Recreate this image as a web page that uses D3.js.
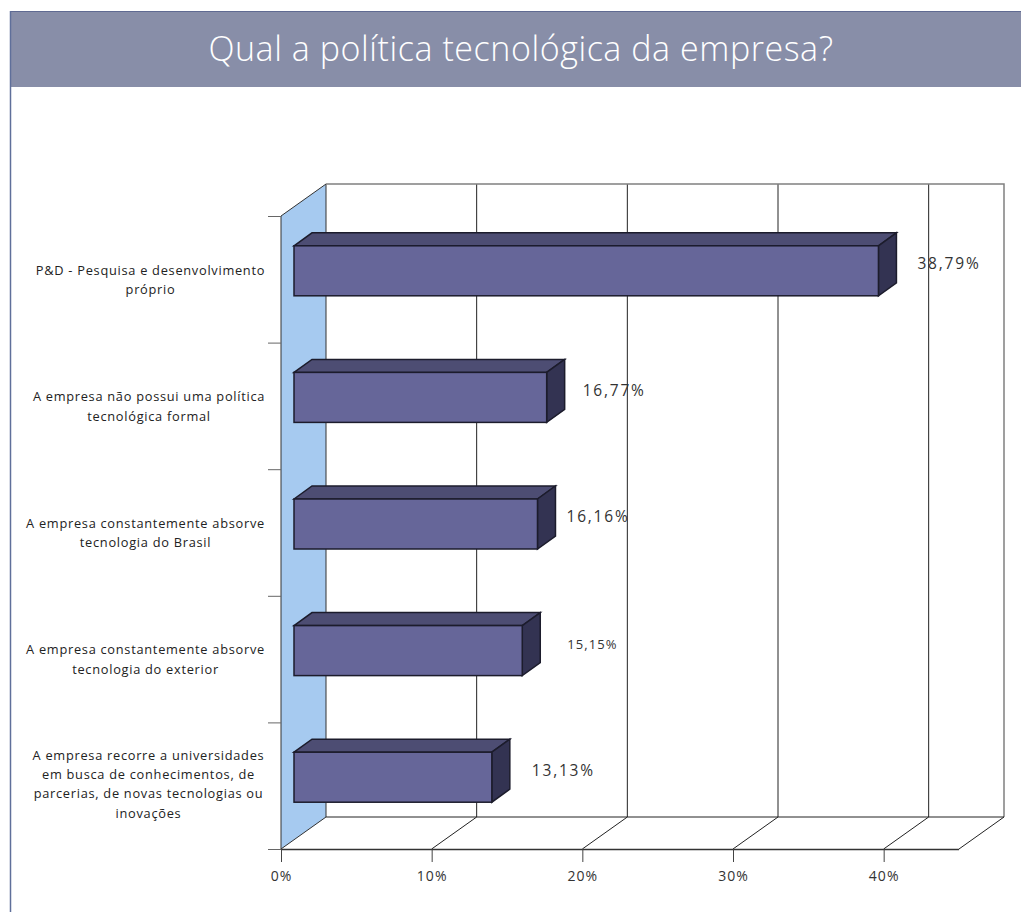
<!DOCTYPE html>
<html><head><meta charset="utf-8">
<script src="https://cdn.jsdelivr.net/npm/d3@7"></script>
<style>html,body{margin:0;background:#fff}svg{display:block}text{font-family:"Open Sans","Noto Sans",sans-serif}</style>
</head><body><div id="c"></div>
<script>
const title = "Qual a política tecnológica da empresa?";
const categories = [
  ["P&D - Pesquisa e desenvolvimento","próprio"],
  ["A empresa não possui uma política","tecnológica formal"],
  ["A empresa constantemente absorve","tecnologia do Brasil"],
  ["A empresa constantemente absorve","tecnologia do exterior"],
  ["A empresa recorre a universidades","em busca de conhecimentos, de","parcerias, de novas tecnologias ou","inovações"]
];
const values = [38.79,16.77,16.16,15.15,13.13];
const valueLabels = ["38,79%","16,77%","16,16%","15,15%","13,13%"];
const xTicks = [0,10,20,30,40];
// manual label layout (gap from bar depth edge, font size, category label centre)
const labelGap = [21,18,11,27,22];
const labelSize = [15.5,15.5,15.5,13,15.5];
const catCenter = [150.5,149,145.5,145.5,148.5];

const W=1021,H=912;
const svg=d3.select("#c").append("svg").attr("width",W).attr("height",H);
const x=d3.scaleLinear().domain([0,45]).range([281,959]);
const y=d3.scaleBand().domain(d3.range(categories.length)).range([216,849]);
const depth={dx:45,dy:-32}, bar={ox:13,oy:-8.5,dx:18,dy:-13,h:50};
const [yT,yB]=y.range();
const x0=x(0),x1=x(45);

// page
svg.append("rect").attr("x",10).attr("y",11).attr("width",W-10).attr("height",76).attr("fill","#888ea8");
svg.append("line").attr("x1",10).attr("x2",W).attr("y1",11.5).attr("y2",11.5).attr("stroke","#5f6a92");
svg.append("line").attr("x1",10.5).attr("x2",10.5).attr("y1",11).attr("y2",H).attr("stroke","#5f6f9a").attr("stroke-width",1.5);
svg.append("text").attr("x",521).attr("y",61).attr("text-anchor","middle").attr("font-size",34).attr("font-weight",300).attr("letter-spacing",0.56).attr("fill","#fff").text(title);

// walls
svg.append("polygon").attr("points",[[x0,yT],[x0+depth.dx,yT+depth.dy],[x0+depth.dx,yB+depth.dy],[x0,yB]].join(" "))
  .attr("fill","#a6caf0").attr("stroke","#333").attr("stroke-width",1);
svg.selectAll("line.grid").data(xTicks.slice(1)).join("line").attr("class","grid")
  .attr("x1",d=>x(d)+depth.dx).attr("x2",d=>x(d)+depth.dx).attr("y1",yT+depth.dy).attr("y2",yB+depth.dy).attr("stroke","#222");
svg.selectAll("line.floor").data(xTicks.slice(1)).join("line").attr("class","floor")
  .attr("x1",d=>x(d)).attr("x2",d=>x(d)+depth.dx).attr("y1",yB).attr("y2",yB+depth.dy).attr("stroke","#222");
svg.append("path").attr("d",`M${x0+depth.dx},${yT+depth.dy}H${x1+depth.dx}V${yB+depth.dy}`).attr("fill","none").attr("stroke","#808080").attr("stroke-width",1.5);
svg.append("path").attr("d",`M${x0+depth.dx},${yB+depth.dy}H${x1+depth.dx}L${x1},${yB}`).attr("fill","none").attr("stroke","#222");

// axes
const gx=svg.append("g").attr("transform",`translate(0,${yB})`)
  .call(d3.axisBottom(x).tickValues(xTicks).tickFormat(d=>d+"%").tickSize(13).tickSizeOuter(0));
gx.select(".domain").attr("stroke","#333").attr("stroke-width",1.5).attr("d",`M${x0},0.5H${x1}`);
gx.selectAll("line").attr("stroke","#444");
gx.selectAll("text").attr("font-size",14).attr("letter-spacing",1).attr("fill","#333").attr("y",22.5).attr("dy","0.71em");
const tickYs=d3.range(categories.length+1).map(i=>yT+i*y.step());
const gy=svg.append("g").attr("transform",`translate(${x0},0)`)
  .call(d3.axisLeft(d3.scaleLinear().domain([yT,yB]).range([yT,yB])).tickValues(tickYs).tickFormat("").tickSize(13).tickSizeOuter(0));
gy.select(".domain").remove();
gy.selectAll("line").attr("stroke","#666");

// bars
const gb=svg.selectAll("g.bar").data(values).join("g").attr("class","bar");
const L=x0+bar.ox;
const R=d=>L+(x(d)-x0);
const T=(d,i)=>y(i)+y.bandwidth()/2+bar.oy-bar.h/2;
gb.append("polygon").attr("points",(d,i)=>[[L,T(d,i)],[L+bar.dx,T(d,i)+bar.dy],[R(d)+bar.dx,T(d,i)+bar.dy],[R(d),T(d,i)]].join(" "))
  .attr("fill","#4d4d73").attr("stroke","#1c1c2c").attr("stroke-width",1.5);
gb.append("polygon").attr("points",(d,i)=>[[R(d),T(d,i)],[R(d)+bar.dx,T(d,i)+bar.dy],[R(d)+bar.dx,T(d,i)+bar.dy+bar.h],[R(d),T(d,i)+bar.h]].join(" "))
  .attr("fill","#333352").attr("stroke","#1c1c2c").attr("stroke-width",1.5);
gb.append("rect").attr("x",L).attr("y",T).attr("width",d=>R(d)-L).attr("height",bar.h)
  .attr("fill","#666699").attr("stroke","#1c1c2c").attr("stroke-width",1.5);
gb.append("text").attr("x",(d,i)=>R(d)+bar.dx+labelGap[i]).attr("y",(d,i)=>T(d,i)+(i==3?19:18))
  .attr("dy","0.35em").attr("font-size",(d,i)=>labelSize[i]).attr("letter-spacing",(d,i)=>i==3?1.1:1.8).attr("fill","#333").text((d,i)=>valueLabels[i]);

// category labels
svg.selectAll("text.cat").data(categories).join("text").attr("class","cat")
  .attr("text-anchor","middle").attr("font-size",12.8).attr("letter-spacing",0.72).attr("fill","#222")
  .each(function(lines,i){
    const lh=19.3, cy=y(i)+y.bandwidth()/2-(i==4?2:0);
    d3.select(this).selectAll("tspan").data(lines).join("tspan")
      .attr("x",catCenter[i]).attr("y",(l,j)=>cy+(j-(lines.length-1)/2)*lh+5).text(l=>l);
  });
</script></body></html>
